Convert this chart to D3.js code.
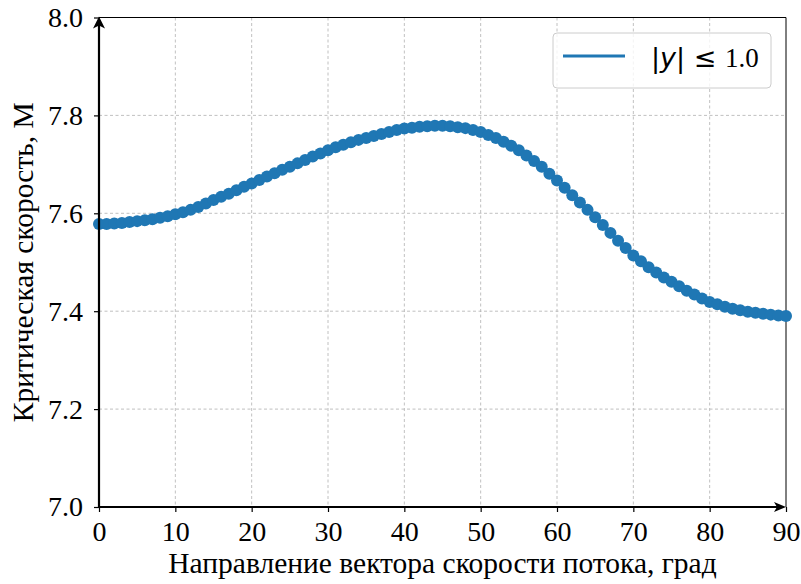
<!DOCTYPE html>
<html>
<head>
<meta charset="utf-8">
<script src="https://cdn.jsdelivr.net/npm/d3@7"></script>
<style>
  body { margin: 0; background: #fff; }
  text { font-family: "Liberation Serif", "Times New Roman", serif; fill: #000; }
</style>
</head>
<body>
<div id="chart"></div>
<script>
// angle of flow velocity vector, degrees
var angles = d3.range(0, 91, 1);
// critical speed values (one per degree)
var speeds = [
  7.578, 7.578, 7.579, 7.580, 7.582, 7.584, 7.586, 7.588, 7.591, 7.594,
  7.598, 7.602, 7.607, 7.613, 7.620, 7.627, 7.634, 7.640, 7.647, 7.654,
  7.661, 7.668, 7.675, 7.682, 7.689, 7.695, 7.702, 7.709, 7.716, 7.722,
  7.729, 7.735, 7.740, 7.745, 7.750, 7.754, 7.758, 7.762, 7.766, 7.770,
  7.773, 7.775, 7.777, 7.778, 7.779, 7.779, 7.778, 7.776, 7.774, 7.770,
  7.766, 7.760, 7.754, 7.746, 7.738, 7.729, 7.718, 7.707, 7.695, 7.681,
  7.667, 7.652, 7.637, 7.622, 7.607, 7.592, 7.576, 7.560, 7.544, 7.529,
  7.514, 7.502, 7.490, 7.479, 7.469, 7.460, 7.451, 7.442, 7.434, 7.426,
  7.419, 7.414, 7.409, 7.405, 7.402, 7.399, 7.397, 7.395, 7.393, 7.391,
  7.390
];
var xTicks = [0, 10, 20, 30, 40, 50, 60, 70, 80, 90];
var yTicks = [7.0, 7.2, 7.4, 7.6, 7.8, 8.0];

var svgWidth = 801;
var svgHeight = 584;
var margin = { top: 17.5, right: 15, bottom: 77, left: 99 };
var width = svgWidth - margin.left - margin.right;
var height = svgHeight - margin.top - margin.bottom;
var blue = "#1f77b4";
var serif = "'Liberation Serif', 'Times New Roman', serif";

var data = angles.map(function(a, i) { return { a: a, v: speeds[i] }; });

var svg = d3.select("#chart").append("svg")
  .attr("width", svgWidth)
  .attr("height", svgHeight);

var chartGroup = svg.append("g")
  .attr("transform", `translate(${margin.left}, ${margin.top})`);

var xScale = d3.scaleLinear().domain([0, 90]).range([0, width]);
var yScale = d3.scaleLinear().domain([7.0, 8.0]).range([height, 0]);

// grid
chartGroup.append("g").selectAll("line")
  .data(xTicks.slice(1, -1))
  .enter().append("line")
  .attr("x1", d => xScale(d)).attr("x2", d => xScale(d))
  .attr("y1", 0).attr("y2", height)
  .attr("stroke", "#b0b0b0").attr("stroke-width", 0.8)
  .attr("stroke-dasharray", "3,2.5");

chartGroup.append("g").selectAll("line")
  .data(yTicks.slice(1, -1))
  .enter().append("line")
  .attr("x1", 0).attr("x2", width)
  .attr("y1", d => yScale(d)).attr("y2", d => yScale(d))
  .attr("stroke", "#b0b0b0").attr("stroke-width", 0.8)
  .attr("stroke-dasharray", "3,2.5");

// axes
var xAxis = d3.axisBottom(xScale).tickValues(xTicks).tickFormat(d3.format("d")).tickSize(5).tickPadding(9);
var yAxis = d3.axisLeft(yScale).tickValues(yTicks).tickFormat(d3.format(".1f")).tickSize(5).tickPadding(11);

var gx = chartGroup.append("g")
  .attr("transform", `translate(0, ${height})`)
  .call(xAxis);
var gy = chartGroup.append("g").call(yAxis);

[gx, gy].forEach(function(g) {
  g.attr("font-family", serif).attr("font-size", 28);
  g.select(".domain").remove();
  g.selectAll(".tick line").attr("stroke", "#000").attr("stroke-width", 1.2);
  g.selectAll(".tick text").attr("fill", "#000").style("font-family", serif);
});

// thin top and right spines
chartGroup.append("line")
  .attr("x1", 0).attr("x2", width).attr("y1", 0).attr("y2", 0)
  .attr("stroke", "#000").attr("stroke-width", 1);
chartGroup.append("line")
  .attr("x1", width).attr("x2", width).attr("y1", 0).attr("y2", height)
  .attr("stroke", "#000").attr("stroke-width", 1);

// the curve
var line = d3.line().x(d => xScale(d.a)).y(d => yScale(d.v));
chartGroup.append("path")
  .datum(data)
  .attr("d", line)
  .attr("fill", "none")
  .attr("stroke", blue)
  .attr("stroke-width", 3);

chartGroup.append("g").selectAll("circle")
  .data(data)
  .enter().append("circle")
  .attr("cx", d => xScale(d.a))
  .attr("cy", d => yScale(d.v))
  .attr("r", 6)
  .attr("fill", blue);

// thick left and bottom spines with arrows
chartGroup.append("line")
  .attr("x1", 0).attr("x2", 0).attr("y1", height).attr("y2", 4)
  .attr("stroke", "#000").attr("stroke-width", 2.2);
chartGroup.append("line")
  .attr("x1", 0).attr("x2", width - 4).attr("y1", height).attr("y2", height)
  .attr("stroke", "#000").attr("stroke-width", 2.2);
chartGroup.append("path")
  .attr("d", "M0,-1 L-6,11 L0,8 L6,11 Z")
  .attr("fill", "#000");
chartGroup.append("path")
  .attr("d", `M${width},${height} L${width - 12},${height - 5} L${width - 9},${height} L${width - 12},${height + 5} Z`)
  .attr("fill", "#000");

// axis titles
chartGroup.append("text")
  .attr("x", width / 2)
  .attr("y", height + 66)
  .style("text-anchor", "middle")
  .style("font-size", "29.5px")
  .text("Направление вектора скорости потока, град");

chartGroup.append("text")
  .attr("transform", "rotate(-90)")
  .attr("x", -height / 2)
  .attr("y", -margin.left + 33)
  .style("text-anchor", "middle")
  .style("font-size", "29.5px")
  .text("Критическая скорость, М");

// legend
var legend = svg.append("g").attr("transform", "translate(553, 33)");
legend.append("rect")
  .attr("width", 218).attr("height", 55)
  .attr("rx", 4)
  .attr("fill", "#fff").attr("fill-opacity", 0.8)
  .attr("stroke", "#cccccc").attr("stroke-width", 1);
legend.append("line")
  .attr("x1", 10).attr("x2", 72).attr("y1", 23).attr("y2", 23)
  .attr("stroke", blue).attr("stroke-width", 3);
var lt = legend.append("text")
  .attr("x", 98).attr("y", 34)
  .style("font-size", "27px");
lt.append("tspan").style("font-family", "'DejaVu Sans', sans-serif").text("|");
lt.append("tspan").style("font-family", "'DejaVu Sans', sans-serif").style("font-style", "italic").text("y");
lt.append("tspan").style("font-family", "'DejaVu Sans', sans-serif").text("| ≤ ");
lt.append("tspan").text("1.0");
</script>
</body>
</html>
